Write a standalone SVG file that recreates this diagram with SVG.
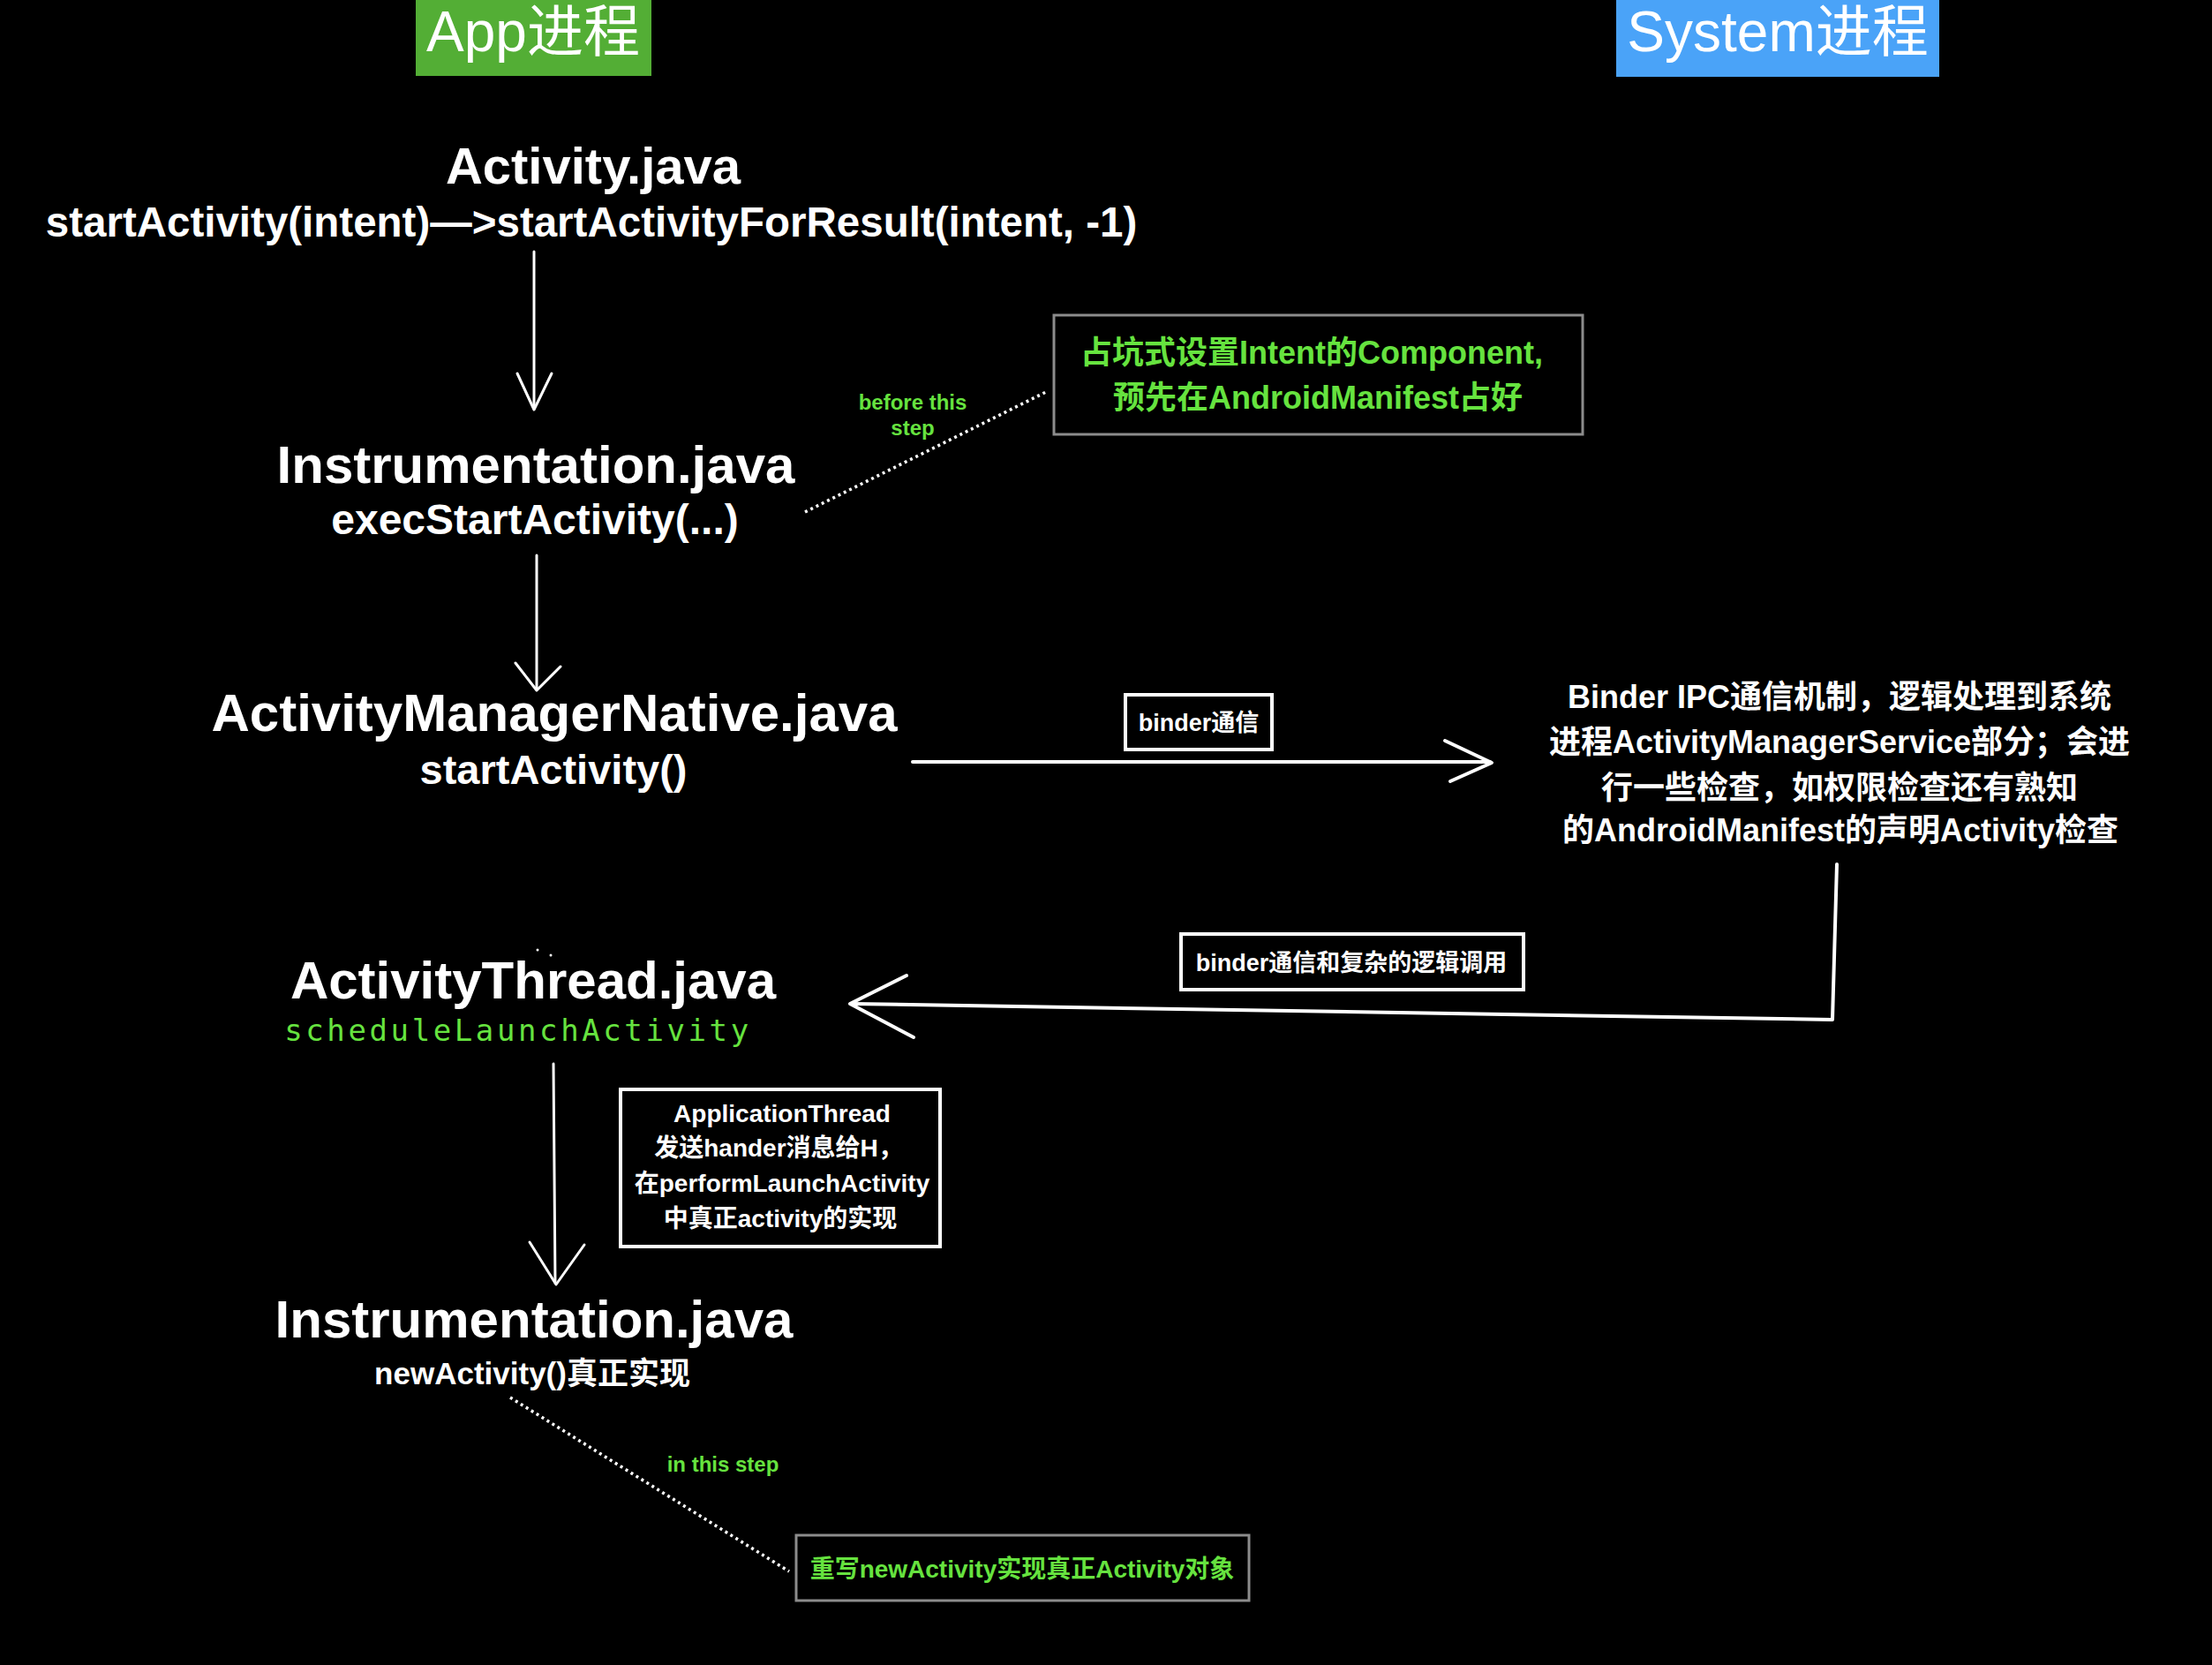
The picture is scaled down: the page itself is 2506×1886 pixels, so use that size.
<svg xmlns="http://www.w3.org/2000/svg" width="2506" height="1886" viewBox="0 0 2506 1886">
<style>
text{font-family:"Liberation Sans","Noto Sans CJK SC",sans-serif;}
.hdr{font-size:64px;fill:#fff;text-anchor:middle;}
.ttl{font-size:60px;font-weight:bold;fill:#fff;text-anchor:middle;}
.sub{font-size:48px;font-weight:bold;fill:#fff;text-anchor:middle;}
.wt{font-weight:bold;fill:#fff;text-anchor:middle;}
.gt{font-weight:bold;fill:#66E33F;text-anchor:middle;}
.mono{font-family:"DejaVu Sans Mono",monospace;font-size:34px;letter-spacing:3.6px;fill:#66E33F;text-anchor:middle;}
.wbox{fill:none;stroke:#fff;stroke-width:4;}
.gbox{fill:none;stroke:#8c8c8c;stroke-width:3;}
.ln{fill:none;stroke:#fff;stroke-width:3;stroke-linecap:round;stroke-linejoin:round;}
.lnw{fill:none;stroke:#fff;stroke-width:4;stroke-linecap:round;stroke-linejoin:round;}
.dot{fill:none;stroke:#fff;stroke-width:3.5;stroke-dasharray:3 4;}
</style>
<rect x="0" y="0" width="2506" height="1886" fill="#000"/>

<g id="app-process">
<rect x="471" y="0" width="267" height="86" fill="#53AE35"/>
<text class="hdr" x="604" y="58">App进程</text>
</g>
<g id="system-process">
<rect x="1831" y="0" width="366" height="87" fill="#4AA3F8"/>
<text class="hdr" x="2014" y="58">System进程</text>
</g>

<g id="activity">
<text class="ttl" x="672" y="208" style="font-size:58px">Activity.java</text>
<text class="sub" x="670" y="268" style="font-size:47.5px">startActivity(intent)—&gt;startActivityForResult(intent, -1)</text>
</g>

<g id="instrumentation1">
<text class="ttl" x="607" y="547">Instrumentation.java</text>
<text class="sub" x="606" y="605">execStartActivity(...)</text>
</g>

<g id="note-placeholder">
<rect class="gbox" x="1194" y="357" width="599" height="135"/>
<text class="gt" x="1486" y="412" style="font-size:36px">占坑式设置Intent的Component,</text>
<text class="gt" x="1493" y="463" style="font-size:36px">预先在AndroidManifest占好</text>
</g>
<g id="label-before">
<text class="gt" x="1034" y="464" style="font-size:24px">before this</text>
<text class="gt" x="1034" y="493" style="font-size:24px">step</text>
</g>

<g id="amn">
<text class="ttl" x="628" y="828">ActivityManagerNative.java</text>
<text class="sub" x="627" y="888" style="font-size:47px">startActivity()</text>
</g>

<g id="binder-label">
<rect class="wbox" x="1275" y="787" width="166" height="62"/>
<text class="wt" x="1358" y="828" style="font-size:27px">binder通信</text>
</g>

<g id="ams">
<text class="wt" x="2084" y="802" style="font-size:36px">Binder IPC通信机制，逻辑处理到系统</text>
<text class="wt" x="2084" y="853" style="font-size:36px">进程ActivityManagerService部分；会进</text>
<text class="wt" x="2084" y="905" style="font-size:36px">行一些检查，如权限检查还有熟知</text>
<text class="wt" x="2085" y="953" style="font-size:36px">的AndroidManifest的声明Activity检查</text>
</g>

<g id="binder-return-label">
<rect class="wbox" x="1338" y="1058" width="388" height="63"/>
<text class="wt" x="1531" y="1100" style="font-size:27px">binder通信和复杂的逻辑调用</text>
</g>

<g id="activity-thread">
<circle cx="609" cy="1076" r="1.5" fill="#fff"/>
<circle cx="624" cy="1082" r="1.5" fill="#fff"/>
<text class="ttl" x="604" y="1131">ActivityThread.java</text>
<text class="mono" x="587" y="1179">scheduleLaunchActivity</text>
</g>

<g id="app-thread-note">
<rect class="wbox" x="703" y="1234" width="362" height="178"/>
<text class="wt" x="886" y="1271" style="font-size:28px">ApplicationThread</text>
<text class="wt" x="882" y="1310" style="font-size:28px">发送hander消息给H，</text>
<text class="wt" x="886" y="1350" style="font-size:28px">在performLaunchActivity</text>
<text class="wt" x="884" y="1390" style="font-size:28px">中真正activity的实现</text>
</g>

<g id="instrumentation2">
<text class="ttl" x="605" y="1515">Instrumentation.java</text>
<text class="wt" x="603" y="1568" style="font-size:35px">newActivity()真正实现</text>
</g>

<g id="label-in">
<text class="gt" x="819" y="1667" style="font-size:24px">in this step</text>
</g>

<g id="note-newactivity">
<rect class="gbox" x="902" y="1739" width="513" height="74"/>
<text class="gt" x="1158" y="1787" style="font-size:28px">重写newActivity实现真正Activity对象</text>
</g>

<g id="connectors">
<line class="ln" x1="605" y1="285" x2="605" y2="462"/>
<polyline class="ln" points="586,423 605,464 625,423"/>
<line class="ln" x1="608" y1="629" x2="608" y2="780"/>
<polyline class="ln" points="584,751 608,782 635,755"/>
<line class="lnw" x1="1034" y1="863" x2="1688" y2="863"/>
<polyline class="lnw" points="1637,839 1690,864 1643,885"/>
<polyline class="lnw" points="2081,979 2076,1155 965,1137"/>
<polyline class="lnw" points="1027,1105 963,1137 1035,1175"/>
<line class="ln" x1="627" y1="1205" x2="629" y2="1453"/>
<polyline class="ln" points="600,1407 630,1455 662,1410"/>
<line class="dot" x1="912" y1="580" x2="1185" y2="444"/>
<line class="dot" x1="578" y1="1583" x2="894" y2="1780"/>
</g>
</svg>
